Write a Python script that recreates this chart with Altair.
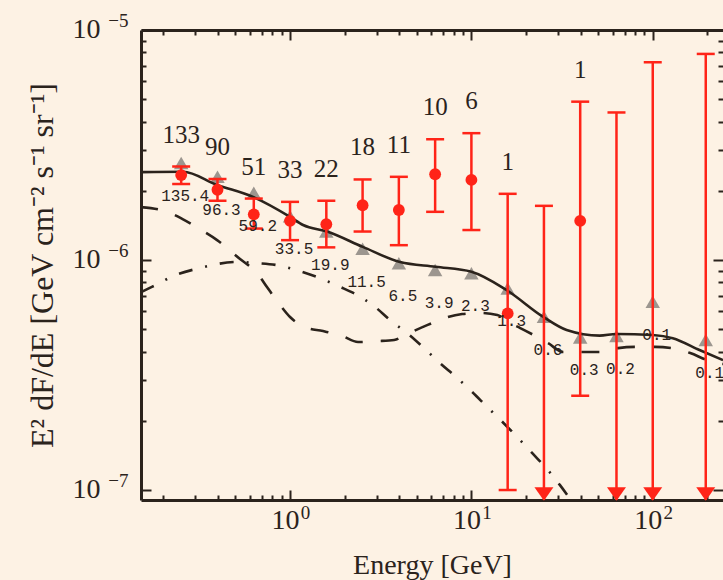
import math
import altair as alt
import pandas as pd

# ---------------- data ----------------
energy = [0.251, 0.398, 0.631, 1.0, 1.585, 2.512, 3.981, 6.310, 10.0, 15.85,
          25.12, 39.81, 63.10, 100.0, 196.0]
obs_flux = [2.34e-6, 2.02e-6, 1.58e-6, 1.48e-6, 1.43e-6, 1.73e-6, 1.65e-6, 2.36e-6,
            2.23e-6, 5.86e-7, None, 1.48e-6, None, None, None]
obs_hi = [2.55e-6, 2.25e-6, 1.85e-6, 1.79e-6, 1.81e-6, 2.24e-6, 2.30e-6, 3.35e-6,
          3.56e-6, 1.94e-6, 1.72e-6, 4.88e-6, 4.38e-6, 7.24e-6, 7.87e-6]
obs_lo = [2.14e-6, 1.81e-6, 1.37e-6, 1.22e-6, 1.135e-6, 1.33e-6, 1.16e-6, 1.62e-6,
          1.35e-6, 1.0e-7, None, 2.57e-7, None, None, None]
obs_counts = ["133", "90", "51", "33", "22", "18", "11", "10", "6", "1", "", "1", "", "", ""]
pred_flux = [2.64e-6, 2.30e-6, 1.96e-6, 1.55e-6, 1.33e-6, 1.12e-6, 9.68e-7, 9.05e-7,
             8.76e-7, 7.53e-7, 5.67e-7, 4.61e-7, 4.68e-7, 6.59e-7, 4.49e-7]
pred_counts = ["135.4", "96.3", "59.2", "33.5", "19.9", "11.5", "6.5", "3.9", "2.3",
               "1.3", "0.6", "0.3", "0.2", "0.1", "0.1"]

total_e = [0.149, 0.257, 0.396, 0.625, 1.0, 1.18, 1.6, 2.52, 4.04, 6.35, 10.0, 15.6,
           24.8, 33.5, 51.0, 63.0, 100.0, 129.0, 181.0, 244.0]
total_v = [2.41e-6, 2.42e-6, 2.12e-6, 1.88e-6, 1.54e-6, 1.42e-6, 1.33e-6, 1.14e-6,
           9.8e-7, 9.35e-7, 8.9e-7, 7.41e-7, 5.67e-7, 4.96e-7, 4.69e-7, 4.77e-7,
           4.72e-7, 4.57e-7, 4.06e-7, 3.67e-7]

dashed_e = [0.149, 0.210, 0.254, 0.319, 0.396, 0.530, 0.658, 0.746, 0.881, 1.0, 1.21,
            1.52, 1.94, 2.37, 3.02, 3.75, 4.31, 5.70, 7.16, 8.89, 11.2, 13.9, 16.3,
            18.6, 26.5, 32.1, 41.3, 51.3, 64.4, 80.0, 103.0, 128.0, 161.0, 200.0, 244.0]
dashed_v = [1.70e-6, 1.62e-6, 1.51e-6, 1.36e-6, 1.22e-6, 1.01e-6, 8.77e-7, 7.63e-7,
            6.37e-7, 5.65e-7, 5.11e-7, 4.91e-7, 4.67e-7, 4.40e-7, 4.44e-7, 4.49e-7,
            4.72e-7, 5.21e-7, 5.60e-7, 5.82e-7, 5.89e-7, 5.77e-7, 5.32e-7, 5.06e-7,
            4.35e-7, 3.98e-7, 3.98e-7, 3.98e-7, 4.14e-7, 4.19e-7, 4.19e-7, 4.14e-7,
            3.94e-7, 3.67e-7, 3.53e-7]

dashdot_e = [0.151, 0.173, 0.235, 0.319, 0.503, 0.649, 0.848, 1.135, 1.41, 1.89, 2.34,
             2.90, 3.61, 4.48, 5.48, 6.72, 8.24, 10.1, 12.2, 14.8, 17.9, 21.6, 26.2,
             30.8, 34.1]
dashdot_v = [7.26e-7, 7.64e-7, 8.61e-7, 9.23e-7, 9.8e-7, 9.7e-7, 9.5e-7, 8.95e-7,
             8.43e-7, 7.64e-7, 7.05e-7, 6.31e-7, 5.43e-7, 4.77e-7, 4.14e-7, 3.56e-7,
             3.10e-7, 2.67e-7, 2.30e-7, 1.98e-7, 1.70e-7, 1.45e-7, 1.23e-7, 1.05e-7,
             9.42e-8]

x_major = [1, 10, 100]
x_exp_labels = ["0", "1", "2"]
x_minor = [0.2, 0.3, 0.4, 0.5, 0.6, 0.7, 0.8, 0.9, 2, 3, 4, 5, 6, 7, 8, 9,
           20, 30, 40, 50, 60, 70, 80, 90, 200]
y_major = [1e-7, 1e-6, 1e-5]
y_exp_labels = ["−7", "−6", "−5"]
y_minor = [2e-7, 3e-7, 4e-7, 5e-7, 6e-7, 7e-7, 8e-7, 9e-7,
           2e-6, 3e-6, 4e-6, 5e-6, 6e-6, 7e-6, 8e-6, 9e-6]
base_label = "10"

X_DOMAIN = [0.1507, 244.0]
Y_DOMAIN = [9.05e-8, 1.0e-5]

# ---------------- styling ----------------
W, H = 582, 470
SERIF = "Liberation Serif"
MONO = "Liberation Mono"
INK = "#2b231c"
RED = "#ff2418"
GRAY = "#9c968f"
BG = "#fdf2e4"

df = pd.DataFrame({
    "energy": energy, "obs": obs_flux, "hi": obs_hi, "lo": obs_lo,
    "count": obs_counts, "pred": pred_flux, "pcount": pred_counts,
})
total = pd.DataFrame({"energy": total_e, "flux": total_v})
dashed = pd.DataFrame({"energy": dashed_e, "flux": dashed_v})
dashdot = pd.DataFrame({"energy": dashdot_e, "flux": dashdot_v})

xs = alt.Scale(type="log", domain=X_DOMAIN, nice=False)
ys = alt.Scale(type="log", domain=Y_DOMAIN, nice=False)


def label_expr(values, labels):
    expr = "''"
    for v, lab in zip(values, labels):
        e = round(math.log10(v))
        expr = f"abs(log(datum.value)/LN10 - ({e})) < 0.01 ? '{lab}' : " + expr
    return expr


def tick_axis(orient, offset, values, size, domain=False):
    return alt.Axis(orient=orient, offset=offset, values=values, tickSize=size,
                    tickWidth=2, tickColor=INK, labels=False, domain=domain,
                    domainColor=INK, domainWidth=3, title=None, grid=False)


# "10" part of the tick labels, plus axis titles and the bottom / left frame
x_label_axis = alt.Axis(
    orient="bottom", values=x_major, labelExpr=f"'{base_label}'",
    ticks=False, domain=True, domainColor=INK, domainWidth=3, grid=False,
    labelFont=SERIF, labelFontSize=28, labelColor=INK, labelPadding=6, labelOffset=-5,
    title="Energy [GeV]", titleFont=SERIF, titleFontSize=28, titleFontWeight="normal",
    titleColor=INK, titleX=W / 2, titleY=65, titleBaseline="middle", titleAlign="center")
y_label_axis = alt.Axis(
    orient="left", values=y_major, labelExpr=f"'{base_label}'",
    ticks=False, domain=True, domainColor=INK, domainWidth=3, grid=False,
    labelFont=SERIF, labelFontSize=28, labelColor=INK, labelPadding=41, labelOffset=-1,
    title="E² dF/dE [GeV cm⁻² s⁻¹ sr⁻¹]", titleFont=SERIF, titleFontSize=32,
    titleFontWeight="normal", titleColor=INK, titleX=-99, titleY=H / 2,
    titleAngle=270, titleBaseline="middle", titleAlign="center")

# exponent part of the tick labels
x_exp_axis = alt.Axis(
    orient="bottom", values=x_major, labelExpr=label_expr(x_major, x_exp_labels),
    ticks=False, domain=False, grid=False, title=None,
    labelFont=SERIF, labelFontSize=19, labelColor=INK, labelPadding=3, labelOffset=15)
y_exp_axis = alt.Axis(
    orient="left", values=y_major, labelExpr=label_expr(y_major, y_exp_labels),
    ticks=False, domain=False, grid=False, title=None,
    labelFont=SERIF, labelFontSize=19, labelColor=INK, labelPadding=13, labelOffset=-10)


def X(axis=None, field="energy"):
    return alt.X(f"{field}:Q", scale=xs, axis=axis)


def Y(field, axis=None):
    return alt.Y(f"{field}:Q", scale=ys, axis=axis)


# gray predicted triangles (carry top frame + inward major ticks)
tri = alt.Chart(df).mark_point(shape="triangle-up", filled=True, size=210,
                               color=GRAY, opacity=1).encode(
    x=X(tick_axis("bottom", -H, x_major, 10, domain=True)),
    y=Y("pred", tick_axis("left", -W, y_major, 10)),
)

solid = alt.Chart(total).mark_line(color=INK, strokeWidth=2.6, interpolate="monotone",
                                   clip=True).encode(
    x=X(x_label_axis), y=Y("flux", y_label_axis))

dash = alt.Chart(dashed).mark_line(color=INK, strokeWidth=2.6, interpolate="monotone",
                                   strokeDash=[18, 18], clip=True).encode(
    x=X(tick_axis("top", -H, x_major, 10)), y=Y("flux", tick_axis("right", -W, y_major, 10)))

ddot = alt.Chart(dashdot).mark_line(color=INK, strokeWidth=2.6, interpolate="monotone",
                                    strokeDash=[14, 13, 2, 13], clip=True).encode(
    x=X(tick_axis("top", -H, x_minor, 5)), y=Y("flux", tick_axis("right", -W, y_minor, 5)))

base = alt.Chart(df).transform_calculate(
    lo2=f"isValid(datum.lo) ? datum.lo : {Y_DOMAIN[0]}",
    ybot=f"{Y_DOMAIN[0]}",
)

bars = base.mark_rule(color=RED, strokeWidth=2.5).encode(
    x=X(tick_axis("bottom", -H, x_minor, 5)),
    y=Y("hi", tick_axis("left", -W, y_minor, 5)), y2="lo2:Q")

cap_hi = alt.Chart(df).mark_tick(orient="horizontal", size=18, thickness=2.5,
                                 color=RED, opacity=1).encode(
    x=X(x_exp_axis), y=Y("hi", y_exp_axis))
cap_lo = alt.Chart(df).transform_filter("isValid(datum.lo)").mark_tick(
    orient="horizontal", size=18, thickness=2.5, color=RED, opacity=1).encode(
    x=X(), y=Y("lo"))

dots = alt.Chart(df).transform_filter("isValid(datum.obs)").mark_circle(
    size=140, color=RED, opacity=1).encode(x=X(), y=Y("obs"))

arrows = base.transform_filter("!isValid(datum.lo)").mark_point(
    shape="M-1,-0.7L1,-0.7L0,0.7Z", filled=True, size=361, color=RED, opacity=1,
    yOffset=-6).encode(x=X(), y=Y("ybot"))

count_txt = alt.Chart(df).transform_filter("datum.count != ''").mark_text(
    font=SERIF, fontSize=25, color=INK, baseline="middle", dy=-32).encode(
    x=X(), y=Y("hi"), text="count:N")

pred_txt = alt.Chart(df).mark_text(
    font=MONO, fontSize=16, color=INK, baseline="middle", dy=33, dx=4).encode(
    x=X(), y=Y("pred"), text="pcount:N")

chart = alt.layer(
    tri, solid, dash, ddot, bars, cap_hi, cap_lo, dots, arrows, count_txt, pred_txt
).resolve_axis(x="independent", y="independent").properties(
    width=W, height=H,
    autosize=alt.AutoSizeParams(type="none"),
    padding={"left": 141, "top": 30, "right": 0, "bottom": 80},
).configure(background=BG).configure_view(stroke=None)

chart.save("out.html", embed_options={"renderer": "svg", "actions": False})
